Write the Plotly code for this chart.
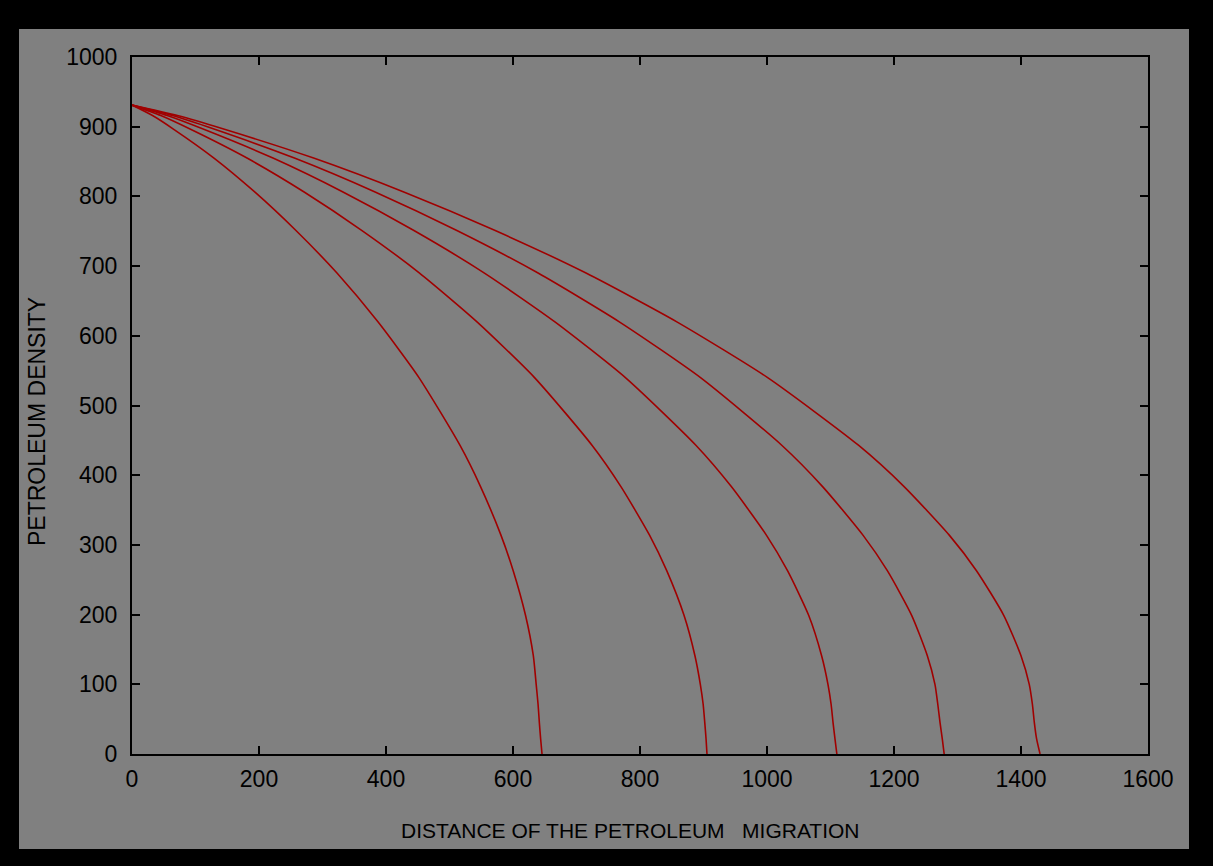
import plotly.graph_objects as go

# Values: distance of migration (x) vs petroleum density (y)
c1_x = [0, 32.3, 64.6, 129.1, 193.7, 258.2, 322.8, 387.3, 451.9, 516.4, 548.7, 581, 600.3, 619.7, 632, 636.5, 639.5, 641.5, 643.5, 645.7]
c1_y = [931, 916, 897, 855, 806, 751, 690, 620, 540, 443, 384, 314, 263, 199, 141, 100, 71, 45, 22, 0]

c2_x = [0, 45.3, 90.6, 181.1, 271.7, 362.2, 452.8, 543.3, 633.9, 724.4, 769.7, 815, 842.1, 869.3, 886.5, 895, 899.5, 902, 904, 905.5]
c2_y = [931, 916, 897, 855, 806, 751, 690, 620, 540, 443, 384, 314, 263, 199, 141, 100, 71, 45, 22, 0]

c3_x = [0, 55.5, 111, 222, 333, 444, 555, 666, 777, 888, 943.5, 999, 1032.3, 1065.6, 1086, 1096, 1101, 1104, 1107, 1110]
c3_y = [931, 916, 897, 855, 806, 751, 690, 620, 540, 443, 384, 314, 263, 199, 141, 100, 71, 45, 22, 0]

c4_x = [0, 64, 127.9, 255.8, 383.7, 511.6, 639.5, 767.4, 895.3, 1023.2, 1087.2, 1151.1, 1189.5, 1227.8, 1252.5, 1264.5, 1269, 1272.5, 1276, 1279]
c4_y = [931, 916, 897, 855, 806, 751, 690, 620, 540, 443, 384, 314, 263, 199, 141, 100, 71, 45, 22, 0]

c5_x = [0, 71.5, 143, 286, 429, 572, 715, 858, 1001, 1144, 1215.5, 1287, 1329.9, 1372.8, 1400, 1413, 1418, 1421, 1424.5, 1430]
c5_y = [931, 916, 897, 855, 806, 751, 690, 620, 540, 443, 384, 314, 263, 199, 141, 100, 71, 45, 22, 0]

x_ticks = [0, 200, 400, 600, 800, 1000, 1200, 1400, 1600]
y_ticks = [0, 100, 200, 300, 400, 500, 600, 700, 800, 900, 1000]

x_title = "DISTANCE OF THE PETROLEUM\u00a0\u00a0\u00a0MIGRATION"
y_title = "PETROLEUM DENSITY"

LINE_COLOR = "#a00000"
FONT = "Liberation Sans, Arial, Helvetica, sans-serif"

fig = go.Figure()
for xs, ys in [(c1_x, c1_y), (c2_x, c2_y), (c3_x, c3_y), (c4_x, c4_y), (c5_x, c5_y)]:
    fig.add_trace(go.Scatter(
        x=xs, y=ys, mode="lines",
        line=dict(color=LINE_COLOR, width=1.6, shape="spline", smoothing=0.6),
        showlegend=False, hoverinfo="skip",
    ))

axis_common = dict(
    showgrid=False, zeroline=False,
    showline=True, linecolor="black", linewidth=2, mirror="ticks",
    ticks="inside", ticklen=8, tickwidth=2, tickcolor="black",
    tickfont=dict(family=FONT, size=23, color="black"),
)

fig.update_xaxes(range=[0, 1600], tickmode="array", tickvals=x_ticks,
                 ticktext=[str(v) for v in x_ticks], ticklabelstandoff=3, **axis_common)
fig.update_yaxes(range=[0, 1000], tickmode="array", tickvals=y_ticks,
                 ticktext=[str(v) for v in y_ticks], ticklabelstandoff=8, **axis_common)

L, R, T, B = 132, 65, 57, 112
W, H = 1213, 866
pw, ph = W - L - R, H - T - B

def px(xp):
    return (xp - L) / pw

def py(yp):
    return (H - B - yp) / ph

fig.add_shape(type="rect", xref="paper", yref="paper",
              x0=px(19), x1=px(1189), y0=py(849), y1=py(29),
              fillcolor="#808080", line=dict(width=0), layer="below")

fig.add_annotation(x=px(630), y=py(831), xref="paper", yref="paper",
                   text=x_title, showarrow=False,
                   font=dict(family=FONT, size=21, color="black"),
                   xanchor="center", yanchor="middle")
fig.add_annotation(x=px(37), y=py(422), xref="paper", yref="paper",
                   text=y_title, showarrow=False, textangle=-90,
                   font=dict(family=FONT, size=23, color="black"),
                   xanchor="center", yanchor="middle")

fig.update_layout(
    width=W, height=H,
    margin=dict(l=L, r=R, t=T, b=B, pad=0),
    paper_bgcolor="black", plot_bgcolor="#808080",
    font=dict(family=FONT, color="black"),
)

fig.write_html("out.html",
               config={"displayModeBar": False},
               post_script="document.body.style.margin='0px';document.body.style.background='black';")
